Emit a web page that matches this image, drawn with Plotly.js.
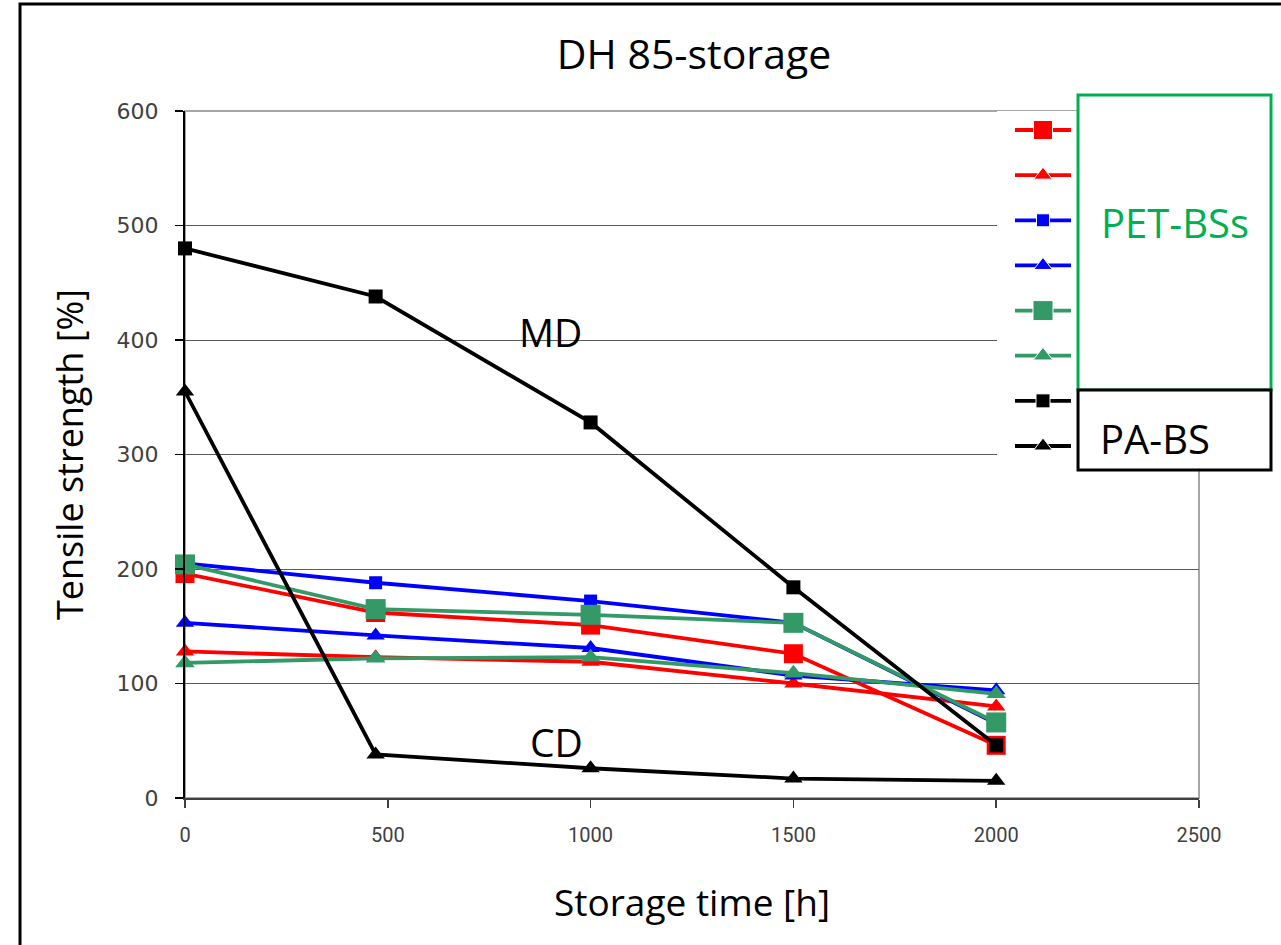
<!DOCTYPE html>
<html><head><meta charset="utf-8">
<script src="https://cdn.plot.ly/plotly-3.0.1.min.js"></script>
<style>html,body{margin:0;padding:0;background:#fff}#chart{width:1281px;height:945px}</style>
</head><body><div id="chart"></div>
<script>
// ---- data ----
const storageTime = [0, 470, 1000, 1500, 2000];
const petRedSquare    = [196, 162, 151, 126, 46];
const petRedTriangle  = [128, 123, 119, 100, 80];
const petBlueSquare   = [205, 188, 172, 153, 65];
const petBlueTriangle = [153, 142, 131, 107, 94];
const petGreenSquare  = [204, 165, 160, 153, 66];
const petGreenTriangle= [118, 122, 123, 109, 91];
const paSquareMD      = [480, 438, 328, 184, 46];
const paTriangleCD    = [355, 38, 26, 17, 15];
const seriesNames = ['PET-BS A (MD)', 'PET-BS A (CD)', 'PET-BS B (MD)', 'PET-BS B (CD)',
                     'PET-BS C (MD)', 'PET-BS C (CD)', 'PA-BS (MD)', 'PA-BS (CD)'];
const seriesValues = [petRedSquare, petRedTriangle, petBlueSquare, petBlueTriangle,
                      petGreenSquare, petGreenTriangle, paSquareMD, paTriangleCD];
const yTicks = [0, 100, 200, 300, 400, 500, 600];
const xTicks = [0, 500, 1000, 1500, 2000, 2500];
const groupLabels = ['PET-BSs', 'PA-BS'];
const curveLabels = ['MD', 'CD'];

// ---- styles ----
const styles = [
  {color: '#ff0000', symbol: 'square', size: 19},
  {color: '#ff0000', symbol: 'triangle-up', size: 16},
  {color: '#0000ff', symbol: 'square', size: 13},
  {color: '#0000ff', symbol: 'triangle-up', size: 16},
  {color: '#339966', symbol: 'square', size: 20},
  {color: '#339966', symbol: 'triangle-up', size: 17},
  {color: '#000000', symbol: 'square', size: 14},
  {color: '#000000', symbol: 'triangle-up', size: 16}
];
const legendSampleX = [0, 0.5, 1];
const bigFont = 'Open Sans, Noto Sans, sans-serif';

const traces = [];
seriesValues.forEach((vals, i) => {
  const s = styles[i];
  traces.push({
    type: 'scatter', mode: 'lines+markers', name: seriesNames[i],
    x: storageTime, y: vals, xaxis: 'x', yaxis: 'y', cliponaxis: false,
    line: {color: s.color, width: 3.8},
    marker: {color: s.color, symbol: s.symbol, size: s.size, opacity: 1},
    showlegend: false, hoverinfo: 'x+y+name'
  });
});
// hand-built legend samples (lines with centred marker), one row per series
seriesValues.forEach((vals, i) => {
  const s = styles[i];
  traces.push({
    type: 'scatter', mode: 'lines+markers', name: seriesNames[i],
    x: legendSampleX, y: legendSampleX.map(() => -i), xaxis: 'x2', yaxis: 'y2',
    cliponaxis: false,
    line: {color: s.color, width: 3.8},
    marker: {color: s.color, symbol: s.symbol, size: [0, s.size, 0], opacity: 1},
    showlegend: false, hoverinfo: 'skip'
  });
});

const layout = {
  width: 1281, height: 945,
  margin: {l: 185, r: 82, t: 111, b: 147},
  paper_bgcolor: '#ffffff', plot_bgcolor: 'rgba(0,0,0,0)',
  showlegend: false,
  title: {text: 'DH 85-storage', x: 0.502, xref: 'paper', y: 1 - 55/945, yanchor: 'middle',
          font: {family: bigFont, size: 41, color: '#000000'}},
  xaxis: {
    range: [0, 2500], tickvals: xTicks, ticktext: xTicks.map(String),
    showgrid: false, zeroline: false, showline: true, linecolor: '#404040', linewidth: 2,
    ticks: 'outside', ticklen: 8, tickcolor: '#404040', tickwidth: 1.5,
    ticklabelstandoff: 10,
    tickfont: {family: 'Roboto, Liberation Sans, sans-serif', size: 20, color: '#404040'},
    title: {text: 'Storage time [h]', standoff: 44, font: {family: bigFont, size: 37, color: '#000000'}},
    fixedrange: true
  },
  yaxis: {
    range: [0, 600], tickvals: yTicks, ticktext: yTicks.map(String),
    showgrid: true, gridcolor: '#595959', gridwidth: 1, zeroline: false,
    showline: true, linecolor: '#000000', linewidth: 2,
    ticks: 'outside', ticklen: 8, tickcolor: '#000000', tickwidth: 1.5,
    ticklabelstandoff: 12,
    tickfont: {family: 'DejaVu Sans, Verdana, sans-serif', size: 22, color: '#404040'},
    title: {text: 'Tensile strength [%]', standoff: 22, font: {family: bigFont, size: 36, color: '#000000'}},
    fixedrange: true
  },
  xaxis2: {domain: [0.8185, 0.8738], range: [0, 1], anchor: 'y2', visible: false, fixedrange: true},
  yaxis2: {domain: [0.4774, 1], range: [-7.532, 0.421], anchor: 'x2', visible: false, fixedrange: true},
  shapes: [
    // outer frame of the figure
    {type: 'rect', xref: 'paper', yref: 'paper', x0: -0.1627, x1: 1.3, y0: -0.5, y1: 1.1557,
     line: {color: '#000000', width: 3}, fillcolor: 'rgba(0,0,0,0)', layer: 'below'},
    // plot area border (grey)
    {type: 'rect', xref: 'paper', yref: 'paper', x0: 0, x1: 1, y0: 0, y1: 1,
     line: {color: '#a6a6a6', width: 2}, fillcolor: 'rgba(0,0,0,0)', layer: 'below'},
    // legend background covering the gridlines
    {type: 'rect', xref: 'x', yref: 'y', x0: 2002, x1: 2210, y0: 292, y1: 640,
     line: {width: 0}, fillcolor: '#ffffff', layer: 'between'},
    // PET-BSs group box
    {type: 'rect', xref: 'paper', yref: 'paper', x0: 0.8807, x1: 1.0710, y0: 0.5939, y1: 1.0233,
     line: {color: '#00b050', width: 3}, fillcolor: '#ffffff', layer: 'above'},
    // PA-BS group box
    {type: 'rect', xref: 'paper', yref: 'paper', x0: 0.8807, x1: 1.0710, y0: 0.4774, y1: 0.5939,
     line: {color: '#000000', width: 3}, fillcolor: '#ffffff', layer: 'above'}
  ],
  annotations: [
    {text: groupLabels[0], xref: 'paper', yref: 'paper', x: 0.9763, y: 0.8384, showarrow: false,
     xanchor: 'center', yanchor: 'middle', font: {family: bigFont, size: 40, color: '#00b050'}},
    {text: groupLabels[1], xref: 'paper', yref: 'paper', x: 0.9566, y: 0.524, showarrow: false,
     xanchor: 'center', yanchor: 'middle', font: {family: bigFont, size: 40, color: '#000000'}},
    {text: curveLabels[0], xref: 'x', yref: 'y', x: 900, y: 407, showarrow: false,
     xanchor: 'center', yanchor: 'middle', font: {family: bigFont, size: 39, color: '#000000'}},
    {text: curveLabels[1], xref: 'x', yref: 'y', x: 917, y: 49, showarrow: false,
     xanchor: 'center', yanchor: 'middle', font: {family: bigFont, size: 39, color: '#000000'}}
  ]
};

Plotly.newPlot('chart', traces, layout, {displayModeBar: false, staticPlot: true});
</script>
</body></html>
